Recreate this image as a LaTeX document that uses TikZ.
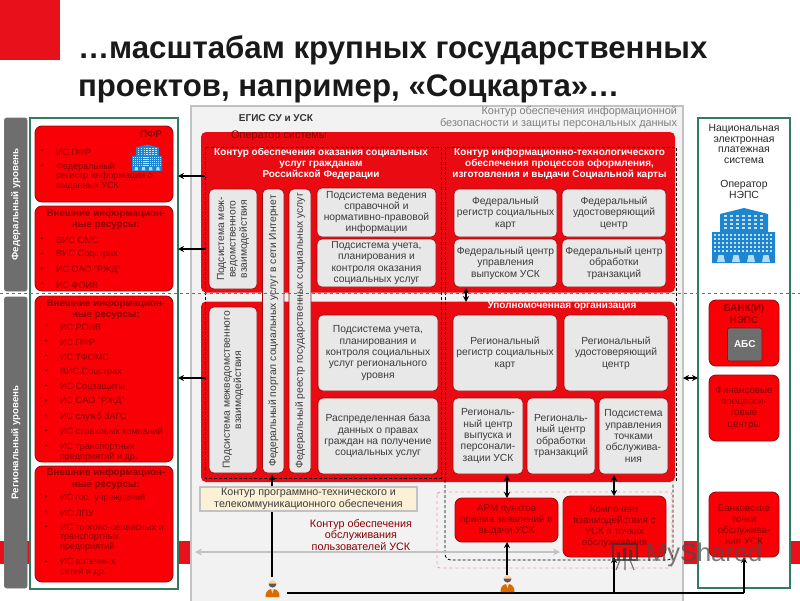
\documentclass[tikz,border=0pt]{standalone}
\usepackage{fontspec}
\setmainfont{Liberation Sans}
\usetikzlibrary{arrows.meta}
\definecolor{bandred}{HTML}{E8101A}
\definecolor{mainred}{HTML}{EA0A12}
\definecolor{boxred}{HTML}{F80006}
\definecolor{edgered}{HTML}{9E0A0A}
\definecolor{textred}{HTML}{880000}
\definecolor{lightgrey}{HTML}{E9E8E8}
\definecolor{levelgrey}{HTML}{6E6E6E}
\definecolor{panelgrey}{HTML}{F3F2F2}
\definecolor{paneledge}{HTML}{C2C2C2}
\definecolor{greenedge}{HTML}{2F7D60}
\definecolor{textgrey}{HTML}{3C3C3C}
\definecolor{iconblue}{HTML}{1C86D2}
\definecolor{beige}{HTML}{FCF0D6}
\newcommand\fs[2]{\fontsize{#1}{#2}\selectfont}
\tikzset{
  every node/.style={inner sep=0pt,outer sep=0pt},
  redbox/.style={draw=edgered,fill=boxred,line width=0.9pt,rounded corners=7pt,align=center,text=textred,font=\fs{9.8}{11.2}},
  graybox/.style={draw=edgered,fill=lightgrey,line width=0.6pt,rounded corners=5pt,align=center,text=textgrey,font=\fs{10.3}{11.3}},
  levelbar/.style={draw=black!55,fill=levelgrey,line width=0.6pt,rounded corners=2pt,text=white,font=\bfseries\fs{9.7}{11}},
  greenframe/.style={draw=greenedge,fill=white,line width=2pt},
  whitehead/.style={text=white,align=center,font=\bfseries\fs{9.95}{11}},
  listhead/.style={text=textred,align=center,font=\bfseries\fs{9.8}{11.2}},
  listitem/.style={text=textred,anchor=west,align=left,font=\fs{9.1}{9.7}},
  listdot/.style={text=textred,font=\fs{8}{9}},
  conn/.style={black,line width=1.5pt},
  arr/.style={conn,-{Stealth[length=6pt,width=6pt]}},
  biarr/.style={conn,{Stealth[length=6pt,width=6pt]}-{Stealth[length=6pt,width=6pt]}},
  contour/.style={black,line width=0.8pt,densely dashed},
  bldg/.pic={
    \fill[iconblue] (8,24)--(8,6)--(32,0)--(56,6)--(56,24)--(63,24)--(63,55)--(0,55)--(0,24)--cycle;
    \foreach \yy in {7,11,15,19}{\foreach \xx in {12,18,...,52}{\fill[white!75!iconblue] (\xx,\yy) rectangle +(3.4,2.4);}}
    \foreach \yy in {26,30,34,38,42}{\foreach \xx in {2,6,...,60}{\fill[white!75!iconblue] (\xx,\yy) rectangle +(2.4,2);}}
    \foreach \xx in {9,24,39,54}{\fill[white!70!iconblue] (\xx-4,54)--(\xx-2.5,47)--(\xx+2.5,47)--(\xx+4,54)--cycle;}
  },
  personpic/.pic={
    \fill[orange!85!black] (-7,11)..controls (-7,4) and (-3,3)..(0,3)..controls (3,3) and (7,4)..(7,11)--cycle;
    \fill[orange!35!white] (0,-2) circle (4);
    \fill[black!65] (-4,-2.5) arc (180:0:4) -- cycle;
    \fill[white!70!orange] (-1.5,3) -- (1.5,3) -- (0,7) -- cycle;
  }
}
% name, x0, y0, x1, y1, style, text
\newcommand\bx[7]{\node[#6,minimum width={#4-#2},minimum height={#5-#3}] (#1) at ({(#2+#4)/2},{(#3+#5)/2}) {#7};}
\newcommand\vbx[7]{\node[#6,rotate=90,minimum width={#5-#3},minimum height={#4-#2}] (#1) at ({(#2+#4)/2},{(#3+#5)/2}) {#7};}
\newcommand\li[5][0]{\node[listdot] (#2d) at (#3-14,#4-#1) {•};\node[listitem] (#2) at (#3,#4) {#5};}
\begin{document}
\begin{tikzpicture}[x=1pt,y=-1pt]
\useasboundingbox (0,0) rectangle (800,600);
\fill[white] (0,0) rectangle (800,600);
% decorative band and corner
\fill[bandred] (0,0) rectangle (60,60);
\fill[bandred] (0,541) rectangle (800,564);
% title
\node[anchor=west,font=\bfseries\fs{31.2}{34},text=black!90] (t1) at (78,50) {…масштабам крупных государственных};
\node[anchor=west,font=\bfseries\fs{31.2}{34},text=black!90] (t2) at (78,89) {проектов, например, «Соцкарта»…};
% level bars
\vbx{lvlf}{4.5}{118}{27}{291}{levelbar}{Федеральный уровень}
\vbx{lvlr}{4.5}{297}{27}{588}{levelbar}{Региональный уровень}
% left frame
\bx{lframe}{30}{118}{178}{589}{greenframe}{}
\bx{pfr}{35}{126}{173}{202}{redbox}{}
\bx{ext1}{35}{206}{173}{291}{redbox}{}
\bx{ext2}{35}{296}{173}{462}{redbox}{}
\bx{ext3}{35}{466}{173}{582}{redbox}{}
\node[listhead] (pfrh) at (151,134) {ПФР};
\pic[scale=0.48] at (132,144.5) {bldg};
\li{a1}{56}{152}{ИС ПФР}
\li[9.5]{a2}{56}{176.5}{Федеральный\\регистр информации о\\выданных УСК}
\node[listhead] (ext1h) at (106,219.5) {Внешние информацион-\\ные ресурсы:};
\li{b1}{56}{240}{ВИС ОМС}
\li{b2}{56}{254.5}{ВИС Соцстрах}
\li{b3}{56}{270}{ИС ОАО "РЖД"}
\li{b4}{56}{285}{ИС ФОИВ}
\node[listhead] (ext2h) at (106,309.5) {Внешние информацион-\\ные ресурсы:};
\li{c1}{60}{327}{ИС РОИВ}
\li{c2}{60}{342}{ИС ПФР}
\li{c3}{60}{357}{ИС ТФОМС}
\li{c4}{60}{372}{ВИС Соцстрах}
\li{c5}{60}{387}{ИС Соцзащиты}
\li{c6}{60}{401.5}{ИС ОАО "РЖД"}
\li{c7}{60}{417}{ИС служб ЗАГС}
\li{c8}{60}{432}{ИС страховых компаний}
\li[5]{c9}{60}{452}{ИС транспортных\\предприятий и др.}
\node[listhead] (ext3h) at (106,479) {Внешние информацион-\\ные ресурсы:};
\li{d1}{60}{498}{ИС гос. учреждений}
\li{d2}{60}{513}{ИС ЛПУ}
\li[9.7]{d3}{60}{537.5}{ИС торгово-сервисных и\\транспортных\\предприятий}
\li[5]{d4}{60}{567.5}{ИС аптечных\\сетей и др.}
% central panel
\bx{panel}{191}{106}{683}{603}{draw=paneledge,fill=panelgrey,line width=2pt}{}
\node[font=\bfseries\fs{10}{12},text=black!80] (egis) at (276,118) {ЕГИС СУ и УСК};
\node[align=right,anchor=east,font=\fs{10.9}{12},text=black!50] (sec) at (677,118) {Контур обеспечения информационной\\безопасности и защиты персональных данных};
% main red areas
\bx{redup}{201}{132}{675}{292.5}{fill=mainred,rounded corners=5pt}{}
\bx{redlow}{201}{301.5}{675}{482}{fill=mainred,rounded corners=5pt}{}
\node[font=\fs{10.9}{12},text=textred] (oper) at (279,136) {Оператор системы};
\node[whitehead] (lefth) at (321,164) {Контур обеспечения оказания социальных\\услуг гражданам\\Российской Федерации};
\node[whitehead] (righth) at (559.5,164) {Контур информационно-технологического\\обеспечения процессов оформления,\\изготовления и выдачи Социальной карты};
% inner boxes: federal left
\vbx{fm}{209}{189}{257}{289}{graybox}{Подсистема меж-\\ведомственного\\взаимодействия}
\vbx{portal}{262.5}{189}{284}{473}{graybox}{Федеральный портал социальных услуг в сети Интернет}
\vbx{reestr}{289}{189}{311}{473}{graybox}{Федеральный реестр государственных социальных услуг}
\bx{nsi}{317}{188}{436}{237}{graybox}{Подсистема ведения\\справочной и\\нормативно-правовой\\информации}
\bx{plan}{317}{239}{436}{287}{graybox}{Подсистема учета,\\планирования и\\контроля оказания\\социальных услуг}
% federal right
\bx{fr1}{454}{189}{557}{237}{graybox}{Федеральный\\регистр социальных\\карт}
\bx{fr2}{562}{189}{666}{237}{graybox}{Федеральный\\удостоверяющий\\центр}
\bx{fr3}{454}{239}{557}{287}{graybox}{Федеральный центр\\управления\\выпуском УСК}
\bx{fr4}{562}{239}{666}{287}{graybox}{Федеральный центр\\обработки\\транзакций}
% regional left
\vbx{rm}{209}{307}{257}{473}{graybox}{Подсистема межведомственного\\взаимодействия}
\bx{rplan}{318}{315}{438}{391}{graybox}{Подсистема учета,\\планирования и\\контроля социальных\\услуг регионального\\уровня}
\bx{rdb}{318}{398}{438}{474}{graybox}{Распределенная база\\данных о правах\\граждан на получение\\социальных услуг}
% regional right
\node[whitehead] (upolh) at (562,306) {Уполномоченная организация};
\bx{rr1}{453}{315}{557}{391}{graybox}{Региональный\\регистр социальных\\карт}
\bx{rr2}{564}{315}{668}{391}{graybox}{Региональный\\удостоверяющий\\центр}
\bx{rr3}{453}{398}{523}{474}{graybox}{Региональ-\\ный центр\\выпуска и\\персонали-\\зации УСК}
\bx{rr4}{527}{398}{595}{474}{graybox}{Региональ-\\ный центр\\обработки\\транзакций}
\bx{rr5}{599}{398}{668}{474}{graybox}{Подсистема\\управления\\точками\\обслужива-\\ния}
% contours
\draw[contour] (205,147) rectangle (441,478);
\draw[contour] (445,480) -- (445,147) -- (676.5,147) -- (676.5,482);
\draw[contour,rounded corners=6pt] (445,480) -- (445,560) -- (673,560) -- (673,484);
\draw[draw=pink!80!red,line width=0.9pt,dashed,rounded corners=3pt] (437,492) rectangle (672,568);
% lower texts
\draw[paneledge,line width=1.4pt,{Stealth[length=7pt,width=7pt]}-{Stealth[length=7pt,width=7pt]}] (195,552) -- (560,552);
\coordinate (pa) at (272,577);
\coordinate (pat) at (272,474.5);
\draw[conn] (pa) -- (272,500);
\bx{beigeb}{200}{487}{417}{511}{draw=paneledge,fill=beige,line width=1.2pt,align=center,text=textgrey,font=\fs{10.7}{12}}{Контур программно-технического и\\телекоммуникационного обеспечения}
\draw[conn,-{Stealth[length=6pt,width=6pt]}] (272,486) -- (pat);
\node[align=center,text=textred,font=\fs{10.8}{11.5}] (svc) at (361,535) {Контур обеспечения\\обслуживания\\пользователей УСК};
\bx{arm}{455}{498}{558}{542}{redbox}{АРМ пунктов\\приема заявлений и\\выдачи УСК}
\bx{comp}{563}{496}{666}{557}{redbox}{Компонент\\взаимодействия с\\УСК в точках\\обслуживания}
% right frame
\bx{rframe}{698}{118}{790}{588}{greenframe}{}
\node[align=center,font=\fs{10.4}{10.9},text=black!85] (nps) at (744,144) {Национальная\\электронная\\платежная\\система};
\node[align=center,font=\fs{10.4}{11},text=black!85] (opn) at (744,189.5) {Оператор\\НЭПС};
\pic at (712,208) {bldg};
\bx{bank}{709}{300}{779}{366}{redbox}{}
\node[listhead] (bankh) at (744,314) {БАНК(И)\\НЭПС};
\bx{abs}{727.5}{328}{762}{361}{draw=edgered,fill=levelgrey,line width=0.6pt,rounded corners=2pt,text=white,font=\bfseries\fs{10}{12}}{АБС}
\bx{fin}{709}{375}{779}{441}{redbox}{Финансовые\\процесси-\\говые\\центры}
\bx{bpt}{709}{492}{779}{557}{redbox}{Банковские\\точки\\обслужива-\\ния УСК}
% connectors
\coordinate (c1) at (205,176);
\coordinate (c2) at (205,249);
\coordinate (c3) at (205,378);
\draw[arr] (c1) -- (lframe.east |- c1);
\draw[arr] (c2) -- (lframe.east |- c2);
\draw[arr] (c3) -- (lframe.east |- c3);
\coordinate (c4) at (683,378);
\draw[biarr] (c4) -- (rframe.west |- c4);
\draw[biarr] (466,288) -- (466,302);
\draw[biarr] (507,475) -- (arm.north -| 507,0);
\draw[biarr] (614,475) -- (comp.north -| 614,0);
\coordinate (pb) at (507,575);
\draw[arr] (pb) -- (arm.south -| pb);
\coordinate (pc) at (287,593);
\coordinate (j1) at (614,593);
\coordinate (j2) at (744,593);
\draw[conn] (pc) -- (j2);
\draw[arr] (j1) -- (comp.south -| j1);
\draw[arr] (j2) -- (bpt.south -| j2);
% users
\pic at (272.5,586) {personpic};
\pic at (507.5,581) {personpic};
% level separator
\draw[greenedge!60!gray,line width=0.9pt,dashed] (0,293) -- (800,293);
% watermark
\begin{scope}[opacity=0.75]
\draw[black!80,line width=1.8pt] (613,544) rectangle (637,560);
\fill[black!80] (617,552) rectangle +(3,8) (623,548) rectangle +(3,12) (629,550) rectangle +(3,10);
\draw[black!70,line width=1.2pt] (620,560) -- (616,570) (625,560) -- (625,570) (630,560) -- (634,570);
\node[anchor=west,font=\fs{25.5}{30},text=black!70] (wm) at (646,555) {MyShared};
\end{scope}
\end{tikzpicture}
\end{document}
